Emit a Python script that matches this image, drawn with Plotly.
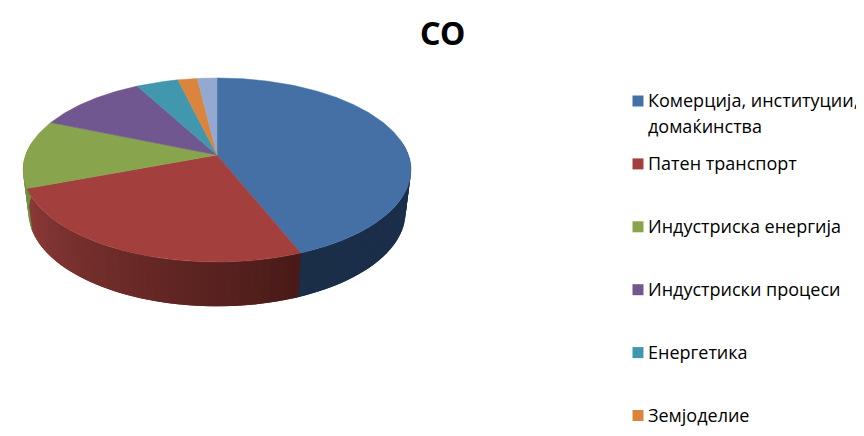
import math
import plotly.graph_objects as go

title = "CO"
categories = ["Комерција, институции,\nдомаќинства", "Патен транспорт", "Индустриска енергија",
              "Индустриски процеси", "Енергетика", "Земјоделие", ""]
values = [43.9, 25.3, 12.0, 10.8, 4.1, 1.9, 1.9]
top_colors = ["#4470a5", "#a3403e", "#88a44c", "#71578f", "#4197ad", "#db843d", "#93a9cf"]
wall_near = ["#1a2e48", "#8c3a38", "#71903f", "#5a4572", "#34788a", "#af6a31", "#75879f"]
wall_far = ["#1b3050", "#481a17", "#71903f", "#5a4572", "#34788a", "#af6a31", "#75879f"]

W, H = 864, 436
PAGE_MARGIN = 8  # the page's default body margin
CX, TOP_Y, BOT_Y = 217, 155, 197
K = 0.163
A_TOP, B_TOP = 191.4, 89.6
A_BOT, B_BOT = 186.0, 91.5
STEP = 2.0


def project(theta, a, b, cy):
    u, v = math.sin(math.radians(theta)), math.cos(math.radians(theta))
    w = 1 + K * v
    return CX + a * u / w, cy - b * v / w


def arc(t0, t1, a, b, cy):
    n = max(2, int(abs(t1 - t0) / 0.5) + 1)
    pts = [project(t0 + (t1 - t0) * i / (n - 1), a, b, cy) for i in range(n)]
    return [p[0] for p in pts], [p[1] for p in pts]


def mix(c0, c1, f):
    a = [int(c0[i:i + 2], 16) for i in (1, 3, 5)]
    b = [int(c1[i:i + 2], 16) for i in (1, 3, 5)]
    return "rgb({},{},{})".format(*[round(x + (y - x) * f) for x, y in zip(a, b)])


fig = go.Figure()
total = sum(values)
edges = [0.0]
for val in values:
    edges.append(edges[-1] + val / total * 360)

# Rim of the front half, visible between the two silhouette angles.
# Strips run in angle order and each overlaps the next, so no seams show.
VIS0, VIS1 = 82.0, 278.0
for i in range(len(values)):
    t0, t1 = max(edges[i], VIS0), min(edges[i + 1], VIS1)
    t = t0
    while t < t1:
        te = min(t + STEP, t1)
        over = min(te + STEP, VIS1)
        xa, ya = arc(t, over, A_TOP, B_TOP, TOP_Y)
        xb, yb = arc(over, t, A_BOT, B_BOT, BOT_Y)
        mid = (t + te) / 2
        f = (edges[i + 1] - mid) / (edges[i + 1] - edges[i])
        col = mix(wall_far[i], wall_near[i], 1 - f)
        fig.add_trace(go.Scatter(x=xa + xb + xa[:1], y=ya + yb + ya[:1], mode="lines",
                                 fill="toself", fillcolor=col, line=dict(width=0),
                                 hoverinfo="skip", showlegend=False))
        t = te

# Top face
for i in range(len(values)):
    xa, ya = arc(edges[i], edges[i + 1], A_TOP, B_TOP, TOP_Y)
    fig.add_trace(go.Scatter(x=[CX] + xa + [CX], y=[TOP_Y] + ya + [TOP_Y], mode="lines",
                             fill="toself", fillcolor=top_colors[i],
                             line=dict(color=top_colors[i], width=0.5),
                             name=categories[i].replace("\n", " "), hoverinfo="name", showlegend=False))

# Legend (the seventh entry falls below the picture in the reference)
LEG_X, LEG_Y, LEG_DY, LINE_H = 638, 101, 62.9, 26
ys = [LEG_Y + LEG_DY * i for i in range(6)]
fig.add_trace(go.Scatter(x=[LEG_X] * 6, y=ys, mode="markers",
                         marker=dict(symbol="square", size=11, color=top_colors[:6]),
                         hoverinfo="skip", showlegend=False))
annotations = []
for i in range(6):
    for j, line in enumerate(categories[i].split("\n")):
        annotations.append(dict(x=LEG_X + 8, y=ys[i] + j * LINE_H - 1, xref="x", yref="y", text=line,
                                showarrow=False, xanchor="left", yanchor="middle",
                                font=dict(family="Open Sans", size=18, color="#000000")))
annotations.append(dict(x=442.5, y=32, xref="x", yref="y", text=title, showarrow=False,
                        font=dict(family="Noto Sans", size=32, color="#000000", weight="bold")))

fig.update_layout(width=W - PAGE_MARGIN, height=H - PAGE_MARGIN, margin=dict(l=0, r=0, t=0, b=0),
                  autosize=False, paper_bgcolor="white", plot_bgcolor="white", annotations=annotations,
                  xaxis=dict(range=[PAGE_MARGIN, W], visible=False, fixedrange=True),
                  yaxis=dict(range=[H, PAGE_MARGIN], visible=False, fixedrange=True))
fig.write_html("out.html", config=dict(displayModeBar=False))
